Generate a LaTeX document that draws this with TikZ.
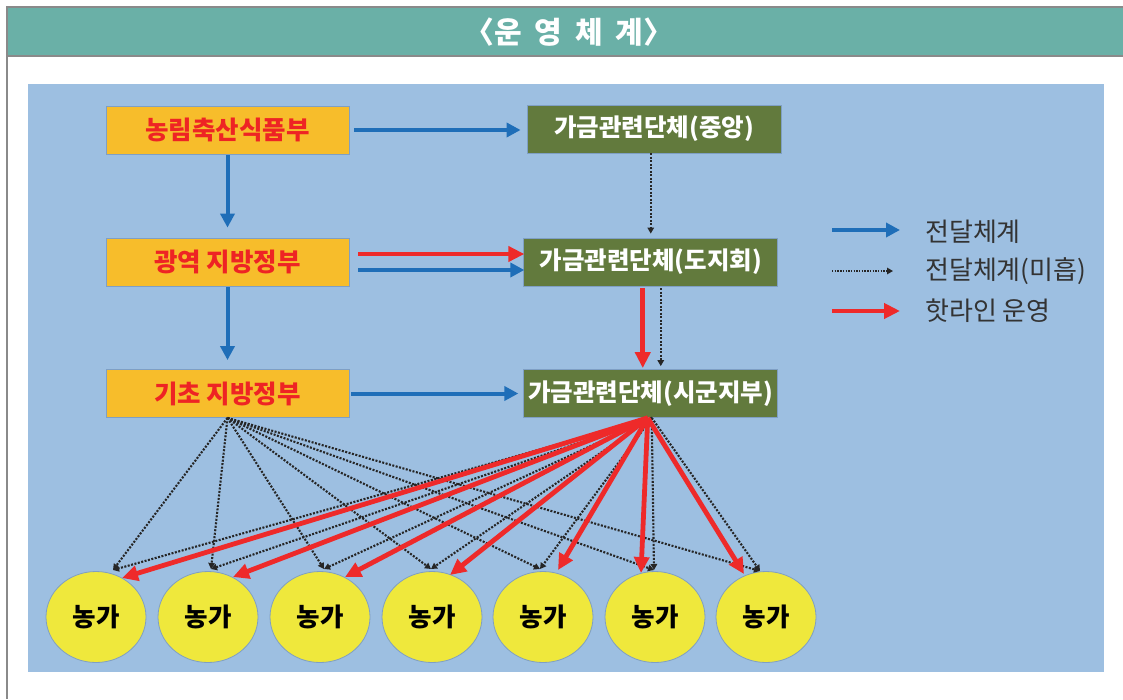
\documentclass[tikz,border=0pt]{standalone}
\usepackage{fontspec}
\setmainfont{Noto Sans CJK KR}
\usetikzlibrary{arrows.meta,shapes.geometric,calc}
\definecolor{titlebg}{HTML}{6AB0A7}
\definecolor{framegray}{HTML}{8A8A8A}
\definecolor{bgblue}{HTML}{9DBFE1}
\definecolor{boxorange}{HTML}{F7BD2B}
\definecolor{boxedge}{HTML}{7F9FC4}
\definecolor{txtred}{HTML}{EE2424}
\definecolor{boxgreen}{HTML}{627A3D}
\definecolor{arrblue}{HTML}{1F6EB8}
\definecolor{arrred}{HTML}{EE2A2A}
\definecolor{farmyellow}{HTML}{EFE83C}
\definecolor{legtxt}{HTML}{333333}
\tikzset{
  govbox/.style={rectangle, minimum width=243pt, minimum height=48pt, inner sep=0pt,
    fill=boxorange, draw=boxedge, line width=0.8pt, text=txtred,
    font=\bfseries\fontsize{25.5}{27}\selectfont},
  orgbox/.style={rectangle, minimum width=254pt, minimum height=48pt, inner sep=0pt,
    fill=boxgreen, draw=boxedge, line width=0.8pt, text=white,
    font=\bfseries\fontsize{24.5}{27}\selectfont},
  farm/.style={ellipse, minimum width=100pt, minimum height=91pt, inner sep=0pt,
    fill=farmyellow, draw=boxedge, line width=0.8pt, text=black,
    font=\bfseries\fontsize{25.5}{27}\selectfont},
  barrow/.style={draw=arrblue, line width=4pt, -{Triangle[length=14pt,width=14pt]}},
  rarrow/.style={draw=arrred, line width=4.8pt, -{Triangle[length=16pt,width=15pt]}},
  darrow/.style={draw=black!85, line width=2.1pt, dash pattern=on 2pt off 1.5pt,
    -{Triangle[length=6pt,width=6.5pt]}},
  legtext/.style={anchor=west, text=legtxt, inner sep=0pt,
    font=\fontsize{26}{28}\selectfont},
}
\begin{document}
\begin{tikzpicture}[x=1pt,y=-1pt]
\useasboundingbox (0,0) rectangle (1123,699);
\fill[white] (0,0) rectangle (1123,699);
% frame and title bar
\fill[titlebg] (7,7) rectangle (1123,56);
\draw[framegray, line width=1.5pt] (1123,7) -- (7,7) -- (7,699);
\draw[framegray, line width=1.5pt] (7,56) -- (1123,56);
\node[text=white, font=\bfseries\fontsize{30}{32}\selectfont] (T) at (569,32)
  {〈운\hspace{6pt} 영\hspace{6pt} 체\hspace{6pt} 계〉};
% diagram background
\fill[bgblue] (28,84) rectangle (1104,672);

% boxes
\node[govbox] (A1) at (227.5,130) {농림축산식품부};
\node[orgbox] (B1) at (654,129) {가금관련단체(중앙)};
\node[govbox] (A2) at (227.5,262) {광역 지방정부};
\node[orgbox] (B2) at (650.75,262) {가금관련단체(도지회)};
\node[govbox] (A3) at (227.5,393.5) {기초 지방정부};
\node[orgbox] (B3) at (650.75,393.5) {가금관련단체(시군지부)};

% farms
\foreach \i/\x in {1/96,2/208,3/320,4/432,5/543,6/655,7/766}
  \node[farm] (c\i) at (\x,617) {농가};

% upper connectors
\draw[barrow, shorten <=5pt, shorten >=6pt] (A1.east) -- (A1.east -| B1.west);
\draw[barrow, shorten <=1pt, shorten >=10pt] (A1.south) -- (A2.north);
\draw[barrow, shorten <=1pt, shorten >=9pt] (A2.south) -- (A3.north);
\draw[darrow, shorten >=4pt] (B2.north |- B1.south) -- (B2.north);
\draw[rarrow, shorten <=9pt, shorten >=-1pt] ($(A2.east)+(0,-8)$) -- ($(B2.west)+(0,-8)$);
\draw[barrow, shorten <=9pt, shorten >=-1pt] ($(A2.east)+(0,8)$) -- ($(B2.west)+(0,8)$);
\draw[rarrow, shorten <=2pt, shorten >=1pt] ($(B2.south)+(-8,0)$) -- ($(B3.north)+(-8,0)$);
\draw[darrow, shorten <=2pt, shorten >=3pt] ($(B2.south)+(10,0)$) -- ($(B3.north)+(10,0)$);
\draw[barrow, shorten <=2pt, shorten >=5pt] (A3.east) -- (B3.west);

% dotted lines to farms
\foreach \i/\dx/\dy in {1/17/-47,2/3/-48,3/4/-48,4/-1/-48,5/-3/-48,6/-1/-47,7/-6/-46} {
  \draw[darrow] (A3.south) -- ($(c\i)+(\dx,\dy)$);
  \draw[darrow] ($(B3.south)+(1,0)$) -- ($(c\i)+(\dx,\dy)$);
}
% hotline arrows to farms
\foreach \i/\dx/\dy in {1/26/-39,2/25/-40,3/25/-40,4/18/-42,5/15/-47,6/-14/-44,7/-22/-43}
  \draw[rarrow] ($(B3.south)+(-3,0)$) -- ($(c\i)+(\dx,\dy)$);

% legend
\coordinate (l1a) at (832,230); \coordinate (l1b) at (900,230);
\coordinate (l2a) at (832,271); \coordinate (l2b) at (893,271);
\coordinate (l3a) at (832,311); \coordinate (l3b) at (900,311);
\draw[barrow] (l1a) -- (l1b);
\draw[darrow, line width=1.4pt, dash pattern=on 1.4pt off 1.3pt] (l2a) -- (l2b);
\draw[rarrow] (l3a) -- (l3b);
\node[legtext] (L1) at (925,232) {전달체계};
\node[legtext] (L2) at (925,271) {전달체계(미흡)};
\node[legtext] (L3) at (925,311) {핫라인 운영};
\end{tikzpicture}
\end{document}
